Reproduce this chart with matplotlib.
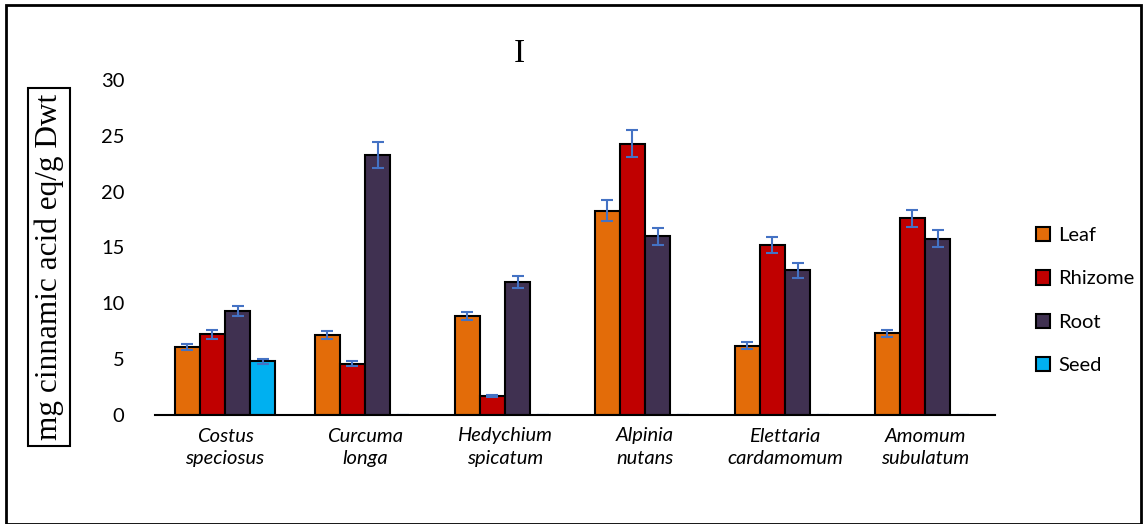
import numpy as np
import matplotlib
matplotlib.use("Agg")
import matplotlib.pyplot as plt
from matplotlib.patches import Rectangle

species = ["Costus\nspeciosus", "Curcuma\nlonga", "Hedychium\nspicatum",
           "Alpinia\nnutans", "Elettaria\ncardamomum", "Amomum\nsubulatum"]
parts = ["Leaf", "Rhizome", "Root", "Seed"]

leaf = [6.1, 7.15, 8.9, 18.3, 6.2, 7.3]
rhizome = [7.25, 4.6, 1.7, 24.3, 15.2, 17.6]
root = [9.3, 23.3, 11.9, 16.0, 12.95, 15.8]
seed = [4.8, 0, 0, 0, 0, 0]

leaf_err = [0.3, 0.35, 0.35, 0.95, 0.3, 0.35]
rhizome_err = [0.4, 0.25, 0.1, 1.2, 0.7, 0.8]
root_err = [0.45, 1.15, 0.55, 0.75, 0.65, 0.75]
seed_err = [0.25, 0, 0, 0, 0, 0]

colors = ["#E36C09", "#C00000", "#403151", "#00B0F0"]

W, H = 1147, 524
fig = plt.figure(figsize=(W / 100, H / 100), dpi=100)
ax = fig.add_axes([155 / W, (H - 415) / H, 840 / W, 335 / H])

x = np.arange(len(species))
width = 0.18
series = [leaf, rhizome, root, seed]
errs = [leaf_err, rhizome_err, root_err, seed_err]
for i, (vals, err) in enumerate(zip(series, errs)):
    pos = x + (i - 1.5) * width
    lw = [1.5 if v > 0 else 0 for v in vals]
    ax.bar(pos, vals, width, color=colors[i], edgecolor="black",
           linewidth=lw, label=parts[i], zorder=2)
    ax.errorbar(pos, vals, yerr=err, fmt="none", ecolor="#4472C4",
                elinewidth=1.5, capsize=4.5, capthick=1.5, zorder=3)

ax.set_xlim(-0.5, len(species) - 0.5)
ax.set_ylim(0, 30)
ax.set_yticks(range(0, 31, 5))
ax.set_xticks(x)
ax.set_xticklabels(species, fontsize=14.5, style="italic", family="Lato",
                   linespacing=1.4)
for t in ax.get_yticklabels():
    t.set_fontsize(14.5)
    t.set_family("Lato")
ax.tick_params(axis="both", length=0)
ax.tick_params(axis="y", pad=22)
ax.tick_params(axis="x", pad=9)
for s in ["top", "right", "left"]:
    ax.spines[s].set_visible(False)
ax.spines["bottom"].set_linewidth(1.5)
ax.spines["bottom"].set_zorder(4)

leg = fig.legend(loc="upper left", bbox_to_anchor=(1018 / W, (H - 209) / H),
                 frameon=False, handlelength=0.7,
                 handleheight=0.7, handletextpad=0.4, labelspacing=1.3,
                 prop={"family": "Lato", "size": 14.5})

fig.text(519 / W, (H - 54) / H, "I", ha="center", va="center",
         fontsize=24, family="Liberation Serif")

fig.text(49 / W, (H - 267) / H, "mg cinnamic acid eq/g Dwt", rotation=90,
         ha="center", va="center", fontsize=22.5, family="Liberation Serif",
         bbox=dict(boxstyle="square,pad=0.2", fc="white", ec="black", lw=1.5))

fig.patches.append(Rectangle((6 / W, 0), 1135 / W, (H - 5) / H,
                             transform=fig.transFigure, fill=False,
                             ec="black", lw=2))

fig.savefig("out.png", dpi=100)
